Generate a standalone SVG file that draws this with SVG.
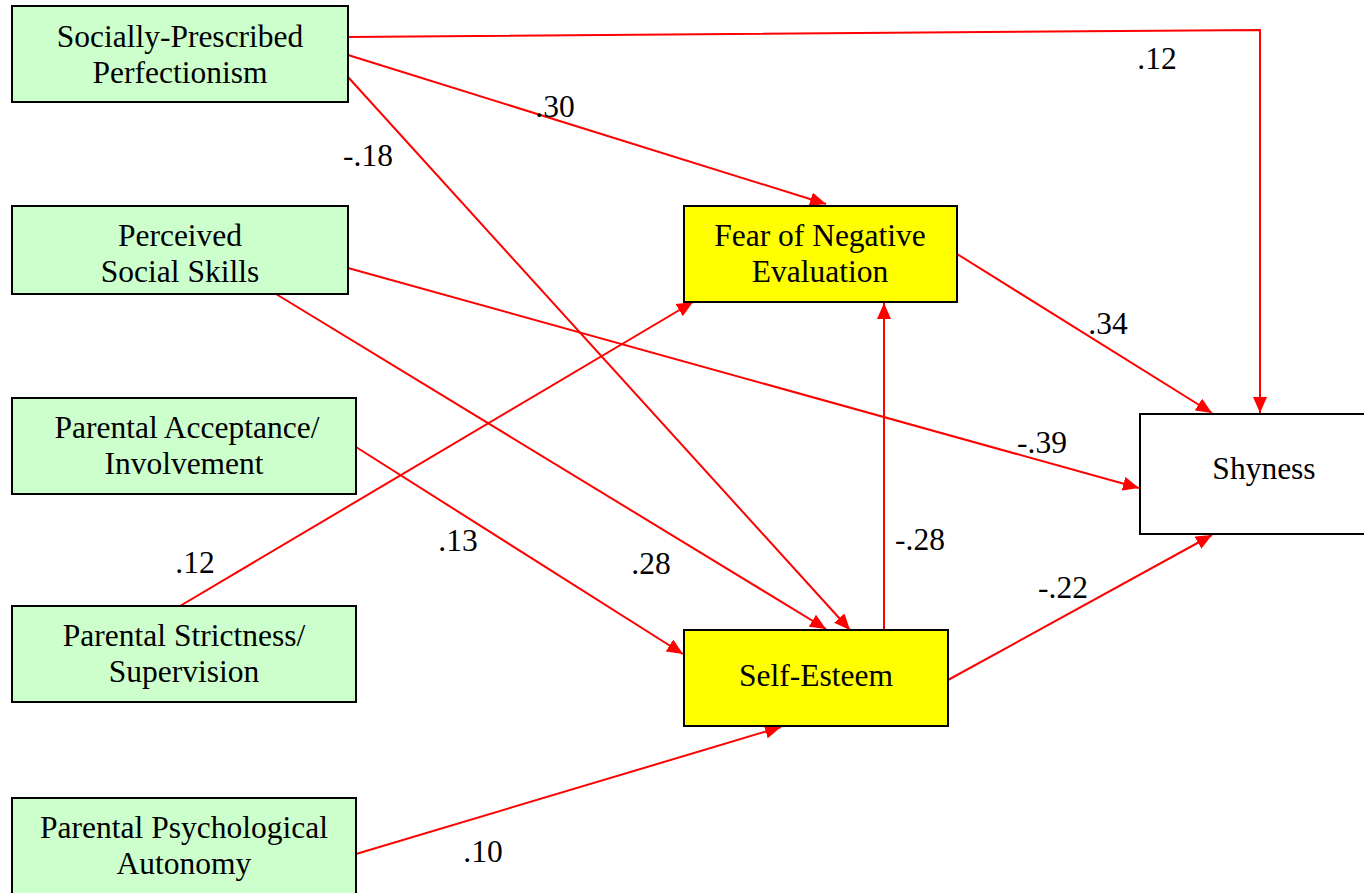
<svg xmlns="http://www.w3.org/2000/svg" width="1364" height="893" viewBox="0 0 1364 893">
<style>
.box{stroke:#000;stroke-width:2}
.g{fill:#ccffcc}
.y{fill:#ffff00}
.w{fill:#fff}
text{font-family:"Liberation Serif","Times New Roman",serif;font-size:31.5px;fill:#000;text-anchor:middle}
.c{stroke:#ff0000;stroke-width:2;fill:none;marker-end:url(#ah)}
</style>
<defs>
<marker id="ah" markerUnits="userSpaceOnUse" markerWidth="16" markerHeight="14" refX="16" refY="7" orient="auto">
<path d="M0,0 L16,7 L0,14 Z" fill="#ff0000"/>
</marker>
</defs>
<rect width="1364" height="893" fill="#fff"/>
<g id="connectors">
<path class="c" d="M348,37 L1260,30 L1260,413"/>
<path class="c" d="M348,55 L826,204"/>
<path class="c" d="M348,77 L850,630"/>
<path class="c" d="M348,268 L1139,488"/>
<path class="c" d="M276,294 L826,629"/>
<path class="c" d="M356,447 L683,654"/>
<path class="c" d="M180,606 L693,302"/>
<path class="c" d="M356,854 L781,727"/>
<path class="c" d="M957,254 L1212,413"/>
<path class="c" d="M884,630 L884,303"/>
<path class="c" d="M948,680 L1212,535"/>
</g>
<g id="labels">
<text x="1157" y="69">.12</text>
<text x="555" y="117">.30</text>
<text x="368" y="166">-.18</text>
<text x="1108" y="334">.34</text>
<text x="1042" y="453">-.39</text>
<text x="920" y="550">-.28</text>
<text x="195" y="573">.12</text>
<text x="458" y="551">.13</text>
<text x="651" y="574">.28</text>
<text x="1063" y="598">-.22</text>
<text x="483" y="862">.10</text>
</g>
<g id="spp"><rect class="box g" x="12" y="6" width="336" height="96"/><text x="180" y="47">Socially-Prescribed</text><text x="180" y="83">Perfectionism</text></g>
<g id="pss"><rect class="box g" x="12" y="206" width="336" height="88"/><text x="180" y="246">Perceived</text><text x="180" y="282">Social Skills</text></g>
<g id="pai"><rect class="box g" x="12" y="398" width="344" height="96"/><text x="187" y="438">Parental Acceptance/</text><text x="184" y="474">Involvement</text></g>
<g id="pss2"><rect class="box g" x="12" y="606" width="344" height="96"/><text x="184" y="646">Parental Strictness/</text><text x="184" y="682">Supervision</text></g>
<g id="ppa"><rect class="box g" x="12" y="798" width="344" height="100"/><text x="184" y="838">Parental Psychological</text><text x="184" y="874">Autonomy</text></g>
<g id="fne"><rect class="box y" x="684" y="206" width="273" height="96"/><text x="820" y="246">Fear of Negative</text><text x="820" y="282">Evaluation</text></g>
<g id="se"><rect class="box y" x="684" y="630" width="264" height="96"/><text x="816" y="686">Self-Esteem</text></g>
<g id="shy"><rect class="box w" x="1140" y="414" width="230" height="120"/><text x="1264" y="479">Shyness</text></g>
</svg>
